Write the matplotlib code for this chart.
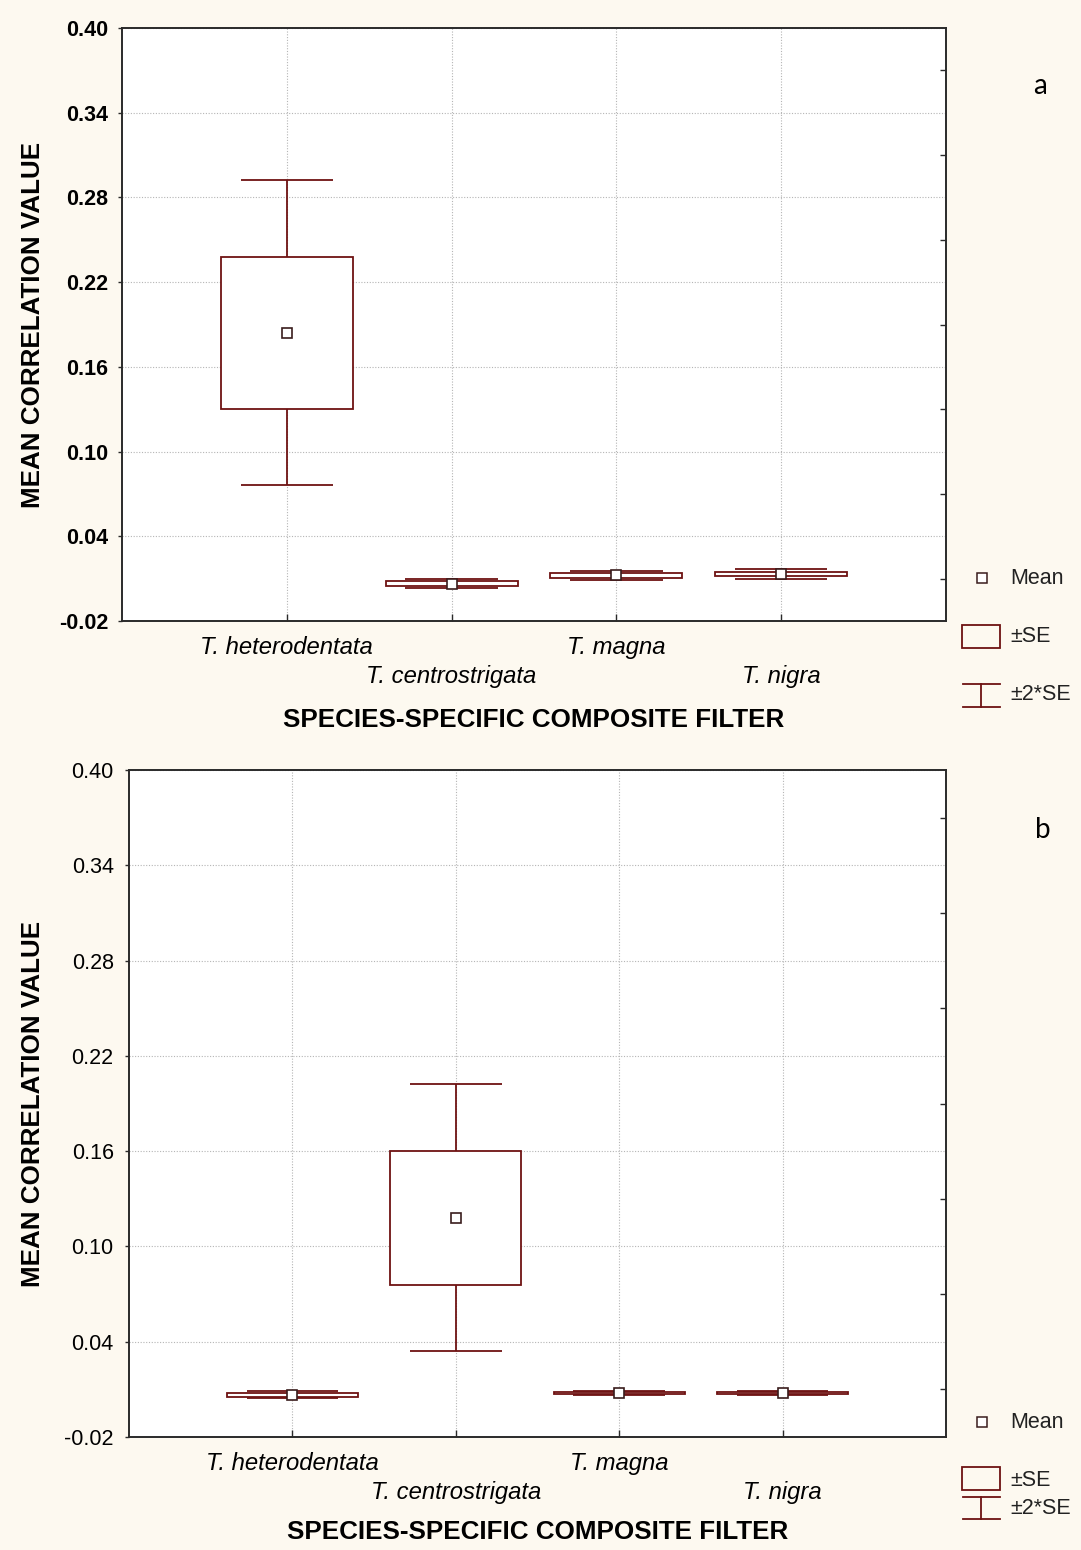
import matplotlib
matplotlib.use("Agg")
import matplotlib.pyplot as plt
from matplotlib.patches import Rectangle
from matplotlib.lines import Line2D
from matplotlib.ticker import FixedLocator
import numpy as np

plt.rcParams['font.family'] = ['Liberation Sans', 'DejaVu Sans']

# ---------------- data ----------------
categories = ["T. heterodentata", "T. centrostrigata", "T. magna", "T. nigra"]
yticks = [-0.02, 0.04, 0.10, 0.16, 0.22, 0.28, 0.34, 0.40]
ytick_labels = ["-0.02", "0.04", "0.10", "0.16", "0.22", "0.28", "0.34", "0.40"]

means_a = [0.184, 0.0064, 0.0123, 0.0133]
se_a = [0.054, 0.0016, 0.0015, 0.0016]

means_b = [0.0067, 0.118, 0.0077, 0.0077]
se_b = [0.0012, 0.042, 0.0007, 0.0007]

panel_letters = ["a", "b"]
ylabel = "MEAN CORRELATION VALUE"
xlabel = "SPECIES-SPECIFIC COMPOSITE FILTER"
legend_labels = ["Mean", "\u00b1SE", "\u00b12*SE"]

# ---------------- style ----------------
W, H = 1081, 1550
BG = '#fdf9f0'
LC = '#6e1212'
MEC = '#3a1c1c'
SPINE = '#2a2a2a'
LW = 1.3


def fx(px):
    return px / W


def fy(py):
    return 1 - py / H


fig = plt.figure(figsize=(W / 100, H / 100), dpi=100, facecolor=BG)

panels = [
    dict(means=means_a, se=se_a, box=(122, 28, 946, 621), bold=True,
         letter_xy=(1040, 86), legend=(578, 625, 648, 684, 707, 636, 695),
         xlabel_y=720, ypad=7),
    dict(means=means_b, se=se_b, box=(129, 770, 946, 1437), bold=False,
         letter_xy=(1043, 830), legend=(1422, 1467, 1490, 1497, 1519, 1480, 1508),
         xlabel_y=1532, ypad=8),
]

for p, letter in zip(panels, panel_letters):
    l, t, r, b = p['box']
    ax = fig.add_axes([fx(l), fy(b), (r - l) / W, (b - t) / H])
    ax.set_facecolor('white')
    x = np.arange(1, len(categories) + 1)
    m = np.array(p['means'])
    s = np.array(p['se'])

    # boxes (mean +- SE)
    ax.bar(x, 2 * s, bottom=m - s, width=0.8, facecolor='white',
           edgecolor=LC, linewidth=LW, zorder=2)
    # whiskers (mean +- 2SE)
    ax.vlines(x, m + s, m + 2 * s, color=LC, linewidth=LW, zorder=3)
    ax.vlines(x, m - 2 * s, m - s, color=LC, linewidth=LW, zorder=3)
    ax.hlines(m + 2 * s, x - 0.28, x + 0.28, color=LC, linewidth=LW, zorder=3)
    ax.hlines(m - 2 * s, x - 0.28, x + 0.28, color=LC, linewidth=LW, zorder=3)
    # mean markers
    ax.plot(x, m, 's', markersize=7, markerfacecolor='white',
            markeredgecolor=MEC, markeredgewidth=1.2, linestyle='none', zorder=4)

    ax.set_xlim(0, 5)
    ax.set_ylim(-0.02, 0.40)
    ax.set_yticks(yticks)
    ax.set_yticklabels(ytick_labels, fontsize=15.5,
                       fontweight='bold' if p['bold'] else 'normal')
    mids = [(yticks[i] + yticks[i + 1]) / 2 for i in range(len(yticks) - 1)]
    ax.yaxis.set_minor_locator(FixedLocator(mids))
    ax.tick_params(axis='y', which='major', direction='out', length=3,
                   width=1, color=SPINE, pad=p['ypad'], left=True, right=False)
    ax.tick_params(axis='y', which='minor', direction='in', length=4,
                   width=1, color=SPINE, left=False, right=True)
    ax.set_xticks(x)
    ax.set_xticklabels(categories, fontsize=17.2, fontstyle='italic')
    ax.tick_params(axis='x', direction='in', length=5, width=1, color=SPINE)
    for i, tk in enumerate(ax.xaxis.get_major_ticks()):
        tk.set_pad(11 if i % 2 == 0 else 32)

    ax.grid(True, which='major', color='#b5b5b5', linestyle=(0, (1, 1.5)),
            linewidth=0.8)
    ax.set_axisbelow(True)
    for sp in ax.spines.values():
        sp.set_color(SPINE)
        sp.set_linewidth(1.4)

    # axis labels
    fig.text(fx(33), fy((t + b) / 2), ylabel, rotation=90, ha='center',
             va='center', fontsize=18.7, fontweight='bold')
    fig.text(fx((l + r) / 2), fy(p['xlabel_y']), xlabel, ha='center',
             va='center', fontsize=18.7, fontweight='bold')
    # panel letter
    fig.text(fx(p['letter_xy'][0]), fy(p['letter_xy'][1]), letter,
             ha='center', va='center', fontsize=20, family='Lato')

    # legend (outside right)
    ym, bt, bb, ct, cb, yse, y2se = p['legend']
    fig.add_artist(Line2D([fx(982)], [fy(ym)], marker='s', markersize=6.5,
                          markerfacecolor='white', markeredgecolor=MEC,
                          markeredgewidth=1.1, linestyle='none',
                          transform=fig.transFigure))
    fig.add_artist(Rectangle((fx(962), fy(bb)), (1000 - 962) / W, (bb - bt) / H,
                             fill=False, edgecolor=LC, linewidth=LW,
                             transform=fig.transFigure))
    fig.add_artist(Line2D([fx(963), fx(1000)], [fy(ct), fy(ct)], color=LC,
                          linewidth=LW, transform=fig.transFigure))
    fig.add_artist(Line2D([fx(963), fx(1000)], [fy(cb), fy(cb)], color=LC,
                          linewidth=LW, transform=fig.transFigure))
    fig.add_artist(Line2D([fx(981), fx(981)], [fy(ct), fy(cb)], color=LC,
                          linewidth=LW, transform=fig.transFigure))
    for lab, yy in zip(legend_labels, [ym, yse, y2se]):
        fig.text(fx(1010), fy(yy), lab, ha='left', va='center', fontsize=15.5,
                 color='#222222')

fig.savefig("out.png", dpi=100, facecolor=BG)
